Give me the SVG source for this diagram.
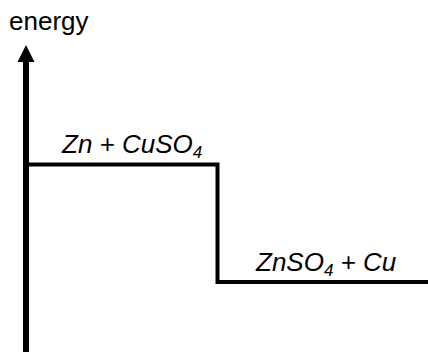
<svg xmlns="http://www.w3.org/2000/svg" width="428" height="352" viewBox="0 0 428 352">
<style>
  .lbl { font-family: "Liberation Sans", Arial, sans-serif; font-size: 26px; fill: #000; }
  .it { font-style: italic; }
  .sub { font-size: 17px; }
  .ln { stroke: #000; fill: none; stroke-linecap: butt; stroke-linejoin: miter; }
</style>
<defs>
  <marker id="ah" markerUnits="userSpaceOnUse" markerWidth="18" markerHeight="18" refX="9" refY="0" viewBox="0 0 18 18" orient="auto-start-reverse" overflow="visible">
  </marker>
</defs>
<rect width="428" height="352" fill="#fff"/>
<g id="axis">
  <line class="ln" x1="26" y1="60" x2="26" y2="352" stroke-width="6"/>
  <polygon points="26,45 17.5,62 34.5,62" fill="#000"/>
  <text class="lbl" x="9" y="30">energy</text>
</g>
<g id="connectors">
  <polyline class="ln" points="26,164.5 217.5,164.5 217.5,282 428,282" stroke-width="4"/>
</g>
<g id="reactants">
  <text class="lbl it" x="62" y="153">Zn + CuSO<tspan class="sub" dy="5">4</tspan></text>
</g>
<g id="products">
  <text class="lbl it" x="256" y="271">ZnSO<tspan class="sub" dy="5">4</tspan><tspan dy="-5"> + Cu</tspan></text>
</g>
</svg>
